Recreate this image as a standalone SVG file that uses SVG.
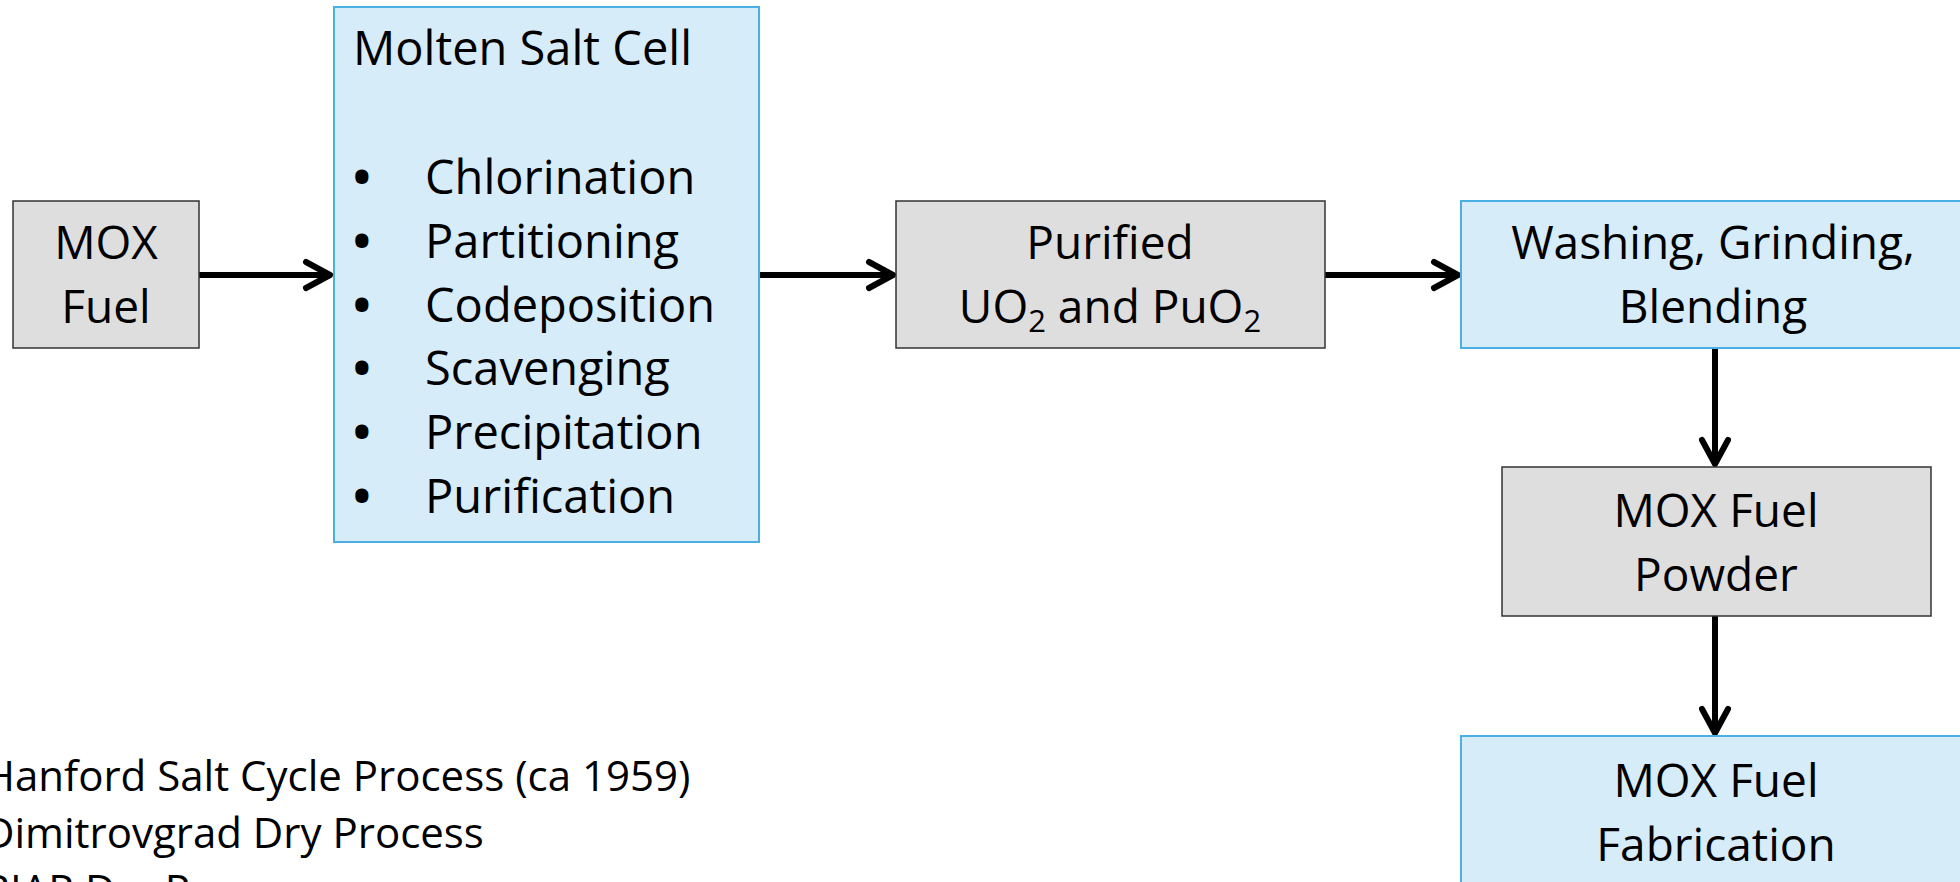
<svg xmlns="http://www.w3.org/2000/svg" width="1960" height="882" viewBox="0 0 1960 882">
<style>
text{font-family:"Open Sans","Noto Sans","Liberation Sans",sans-serif;fill:#000}
.t{font-size:46px;text-anchor:middle}
.l{font-size:47px}
.d{font-weight:bold}
.b{font-size:42px}
.blue{fill:#D6ECF8;stroke:#4AB0E4;stroke-width:2}
.grey{fill:#DEDEDE;stroke:#333;stroke-width:1.5}
.c{stroke:#000;stroke-width:6;fill:none;marker-end:url(#ah)}
</style>
<defs>
<marker id="ah" markerUnits="userSpaceOnUse" markerWidth="40" markerHeight="40" viewBox="-30 -20 40 40" refX="0" refY="0" orient="auto" overflow="visible">
<path d="M-24,-13 L0,0 L-24,13" fill="none" stroke="#000" stroke-width="6" stroke-linecap="round" stroke-linejoin="round"/>
</marker>
</defs>
<rect width="1960" height="882" fill="#fff"/>
<g id="connectors">
<line class="c" x1="199" y1="275" x2="330" y2="275"/>
<line class="c" x1="759" y1="275" x2="893" y2="275"/>
<line class="c" x1="1325" y1="275" x2="1458" y2="275"/>
<line class="c" x1="1715" y1="348" x2="1715" y2="464"/>
<line class="c" x1="1715" y1="616" x2="1715" y2="733"/>
</g>
<g id="mox-fuel">
<rect class="grey" x="13" y="201" width="186" height="147"/>
<text class="t" x="106" y="259">MOX</text>
<text class="t" x="106" y="323">Fuel</text>
</g>
<g id="molten-salt-cell">
<rect class="blue" x="334" y="7" width="425" height="535"/>
<text class="l" x="353" y="65">Molten Salt Cell</text>
<text class="l" y="194"><tspan class="d" x="353">•</tspan><tspan x="425">Chlorination</tspan></text>
<text class="l" y="258"><tspan class="d" x="353">•</tspan><tspan x="425">Partitioning</tspan></text>
<text class="l" y="322"><tspan class="d" x="353">•</tspan><tspan x="425">Codeposition</tspan></text>
<text class="l" y="385"><tspan class="d" x="353">•</tspan><tspan x="425">Scavenging</tspan></text>
<text class="l" y="449"><tspan class="d" x="353">•</tspan><tspan x="425">Precipitation</tspan></text>
<text class="l" y="513"><tspan class="d" x="353">•</tspan><tspan x="425">Purification</tspan></text>
</g>
<g id="purified">
<rect class="grey" x="896" y="201" width="429" height="147"/>
<text class="t" x="1110" y="259">Purified</text>
<text class="t" x="1110" y="323">UO<tspan font-size="31" dy="9">2</tspan><tspan dy="-9"> and PuO</tspan><tspan font-size="31" dy="9">2</tspan></text>
</g>
<g id="washing">
<rect class="blue" x="1461" y="201" width="510" height="147"/>
<text class="t" x="1713" y="259">Washing, Grinding,</text>
<text class="t" x="1713" y="323">Blending</text>
</g>
<g id="powder">
<rect class="grey" x="1502" y="467" width="429" height="149"/>
<text class="t" x="1716" y="527">MOX Fuel</text>
<text class="t" x="1716" y="591">Powder</text>
</g>
<g id="fabrication">
<rect class="blue" x="1461" y="736" width="510" height="200"/>
<text class="t" x="1716" y="797">MOX Fuel</text>
<text class="t" x="1716" y="861">Fabrication</text>
</g>
<g id="notes">
<text class="b" x="-16" y="791">Hanford Salt Cycle Process (ca 1959)</text>
<text class="b" x="-16" y="848">Dimitrovgrad Dry Process</text>
<text class="b" x="-16" y="905">RIAR Dry Process</text>
</g>
</svg>
